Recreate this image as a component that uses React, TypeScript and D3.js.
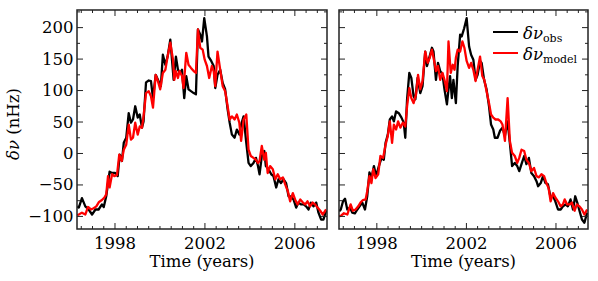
import React from "react";
import * as d3 from "d3";

// values, [year, nHz]
const obsLeft: [number, number][] = [
  [1996.32, -84], [1996.39, -86], [1996.53, -71], [1996.68, -84], [1996.83, -89], [1996.98, -97],
  [1997.13, -89], [1997.27, -89], [1997.42, -81], [1997.5, -85], [1997.61, -68], [1997.76, -29],
  [1997.87, -31], [1998.01, -31], [1998.12, -36], [1998.21, -2], [1998.31, -12], [1998.39, 17],
  [1998.5, 25], [1998.61, 64], [1998.71, 49], [1998.8, 54], [1998.9, 75], [1999.01, 57],
  [1999.1, 62], [1999.2, 41], [1999.27, 51], [1999.38, 113], [1999.5, 116], [1999.6, 115],
  [1999.69, 88], [1999.81, 125], [1999.94, 115], [2000.04, 107], [2000.13, 157], [2000.24, 141],
  [2000.34, 154], [2000.46, 181], [2000.61, 117], [2000.71, 154], [2000.8, 133], [2000.9, 128],
  [2000.98, 133], [2001.08, 88], [2001.17, 123], [2001.27, 102], [2001.38, 99], [2001.5, 96],
  [2001.6, 94], [2001.69, 197], [2001.79, 189], [2001.87, 178], [2001.97, 215], [2002.09, 186],
  [2002.16, 154], [2002.28, 147], [2002.39, 139], [2002.46, 104], [2002.56, 125], [2002.68, 133],
  [2002.79, 112], [2002.9, 102], [2003.01, 70], [2003.1, 49], [2003.2, 30], [2003.32, 25],
  [2003.42, 38], [2003.53, 30], [2003.61, 46], [2003.72, 59], [2003.84, 17], [2003.94, -15],
  [2004.04, -20], [2004.16, -15], [2004.27, -7], [2004.36, -20], [2004.43, -33], [2004.53, -4],
  [2004.64, 4], [2004.71, -20], [2004.83, -25], [2004.95, -33], [2005.05, -36], [2005.17, -54],
  [2005.27, -41], [2005.38, -47], [2005.5, -41], [2005.61, -47], [2005.72, -68], [2005.82, -68],
  [2005.94, -73], [2006.06, -86], [2006.16, -78], [2006.27, -81], [2006.39, -81], [2006.5, -84],
  [2006.61, -89], [2006.71, -78], [2006.83, -84], [2006.95, -78], [2007.05, -94], [2007.17, -105],
  [2007.27, -105], [2007.39, -91],
];

const modelLeft: [number, number][] = [
  [1996.32, -98], [1996.39, -97], [1996.53, -94], [1996.68, -97], [1996.8, -85], [1996.93, -89],
  [1997.05, -87], [1997.17, -84], [1997.29, -77], [1997.42, -74], [1997.53, -70], [1997.61, -65],
  [1997.69, -36], [1997.76, -54], [1997.87, -33], [1997.97, -36], [1998.09, -34], [1998.19, -2],
  [1998.3, -12], [1998.39, 6], [1998.5, 14], [1998.61, 46], [1998.71, 22], [1998.8, 25],
  [1998.9, 49], [1999.01, 30], [1999.1, 43], [1999.2, 41], [1999.27, 59], [1999.38, 96],
  [1999.5, 99], [1999.6, 91], [1999.69, 73], [1999.81, 125], [1999.91, 115], [2000.01, 102],
  [2000.13, 128], [2000.24, 133], [2000.34, 154], [2000.46, 176], [2000.58, 149], [2000.64, 117],
  [2000.71, 131], [2000.8, 120], [2000.87, 131], [2000.98, 123], [2001.05, 104], [2001.17, 160],
  [2001.27, 141], [2001.38, 136], [2001.5, 131], [2001.6, 128], [2001.69, 197], [2001.79, 168],
  [2001.9, 165], [2001.99, 149], [2002.09, 139], [2002.19, 120], [2002.31, 139], [2002.39, 131],
  [2002.46, 107], [2002.56, 162], [2002.68, 133], [2002.79, 107], [2002.9, 99], [2003.01, 75],
  [2003.1, 54], [2003.2, 59], [2003.32, 54], [2003.42, 62], [2003.53, 49], [2003.61, 20],
  [2003.72, 54], [2003.84, 62], [2003.94, 6], [2004.04, -4], [2004.16, -7], [2004.27, -10],
  [2004.36, -15], [2004.43, -12], [2004.53, 12], [2004.64, -10], [2004.71, 1], [2004.79, -31],
  [2004.9, -20], [2005.02, -25], [2005.13, -41], [2005.24, -33], [2005.35, -41], [2005.47, -38],
  [2005.57, -49], [2005.69, -60], [2005.79, -76], [2005.91, -63], [2006.01, -73], [2006.12, -81],
  [2006.24, -73], [2006.36, -78], [2006.46, -81], [2006.56, -76], [2006.68, -84], [2006.79, -78],
  [2006.9, -81], [2007.01, -86], [2007.13, -91], [2007.24, -97], [2007.39, -89],
];

const obsRight: [number, number][] = [
  [1996.32, -92], [1996.39, -89], [1996.49, -76], [1996.58, -72], [1996.68, -89], [1996.8, -86],
  [1996.9, -94], [1997.02, -95], [1997.13, -89], [1997.23, -84], [1997.35, -78], [1997.47, -89],
  [1997.57, -68], [1997.67, -30], [1997.76, -39], [1997.87, -20], [1997.97, -36], [1998.09, -20],
  [1998.21, -7], [1998.31, -10], [1998.39, 17], [1998.49, 30], [1998.58, 54], [1998.68, 59],
  [1998.76, 51], [1998.86, 67], [1998.98, 64], [1999.1, 57], [1999.2, 49], [1999.27, 25],
  [1999.35, 86], [1999.45, 128], [1999.54, 120], [1999.64, 91], [1999.72, 86], [1999.82, 120],
  [1999.94, 96], [2000.04, 107], [2000.16, 162], [2000.24, 139], [2000.34, 152], [2000.46, 168],
  [2000.53, 162], [2000.64, 117], [2000.73, 144], [2000.83, 131], [2000.93, 126], [2001.02, 102],
  [2001.13, 78], [2001.2, 102], [2001.27, 123], [2001.35, 88], [2001.42, 117], [2001.53, 80],
  [2001.61, 139], [2001.72, 189], [2001.79, 186], [2001.9, 199], [2002.01, 215], [2002.12, 170],
  [2002.21, 157], [2002.31, 149], [2002.41, 117], [2002.5, 125], [2002.61, 147], [2002.68, 144],
  [2002.79, 117], [2002.9, 102], [2003.01, 75], [2003.1, 46], [2003.2, 38], [2003.27, 25],
  [2003.39, 25], [2003.5, 36], [2003.61, 41], [2003.72, 28], [2003.84, 51], [2003.94, 17],
  [2004.04, -20], [2004.16, -15], [2004.27, -20], [2004.36, -28], [2004.46, -17], [2004.58, -4],
  [2004.68, -17], [2004.79, -7], [2004.9, -31], [2005.02, -36], [2005.13, -44], [2005.2, -52],
  [2005.32, -47], [2005.42, -36], [2005.53, -47], [2005.64, -49], [2005.76, -70], [2005.87, -68],
  [2005.97, -76], [2006.09, -89], [2006.21, -89], [2006.31, -84], [2006.43, -81], [2006.53, -84],
  [2006.65, -73], [2006.76, -89], [2006.86, -68], [2006.95, -78], [2007.05, -91], [2007.16, -105],
  [2007.27, -110], [2007.39, -94],
];

const modelRight: [number, number][] = [
  [1996.32, -100], [1996.39, -99], [1996.53, -95], [1996.68, -97], [1996.83, -81], [1996.93, -91],
  [1997.05, -89], [1997.17, -84], [1997.27, -78], [1997.38, -74], [1997.5, -73], [1997.57, -60],
  [1997.67, -36], [1997.76, -47], [1997.84, -25], [1997.94, -39], [1998.06, -33], [1998.16, -4],
  [1998.28, -7], [1998.39, 14], [1998.49, 28], [1998.58, 51], [1998.68, 17], [1998.76, 46],
  [1998.86, 38], [1998.95, 51], [1999.05, 41], [1999.16, 49], [1999.27, 43], [1999.35, 75],
  [1999.45, 104], [1999.54, 88], [1999.64, 80], [1999.75, 94], [1999.84, 125], [1999.94, 102],
  [2000.04, 115], [2000.16, 162], [2000.27, 144], [2000.36, 152], [2000.46, 165], [2000.56, 147],
  [2000.64, 131], [2000.73, 139], [2000.83, 117], [2000.93, 128], [2001.02, 117], [2001.13, 99],
  [2001.2, 178], [2001.3, 128], [2001.39, 141], [2001.47, 133], [2001.53, 152], [2001.61, 165],
  [2001.72, 162], [2001.82, 178], [2001.91, 168], [2002.01, 147], [2002.12, 136], [2002.21, 144],
  [2002.31, 133], [2002.41, 115], [2002.5, 133], [2002.61, 154], [2002.71, 123], [2002.8, 117],
  [2002.9, 99], [2003.01, 80], [2003.1, 62], [2003.2, 57], [2003.3, 54], [2003.42, 54],
  [2003.53, 51], [2003.61, 46], [2003.72, 20], [2003.84, 88], [2003.94, 20], [2004.04, 1],
  [2004.16, -4], [2004.27, -15], [2004.36, -7], [2004.46, 6], [2004.58, 4], [2004.68, -10],
  [2004.79, -15], [2004.9, -28], [2005.02, -23], [2005.13, -36], [2005.24, -38], [2005.35, -33],
  [2005.47, -36], [2005.57, -47], [2005.67, -55], [2005.76, -76], [2005.87, -63], [2005.97, -70],
  [2006.09, -76], [2006.21, -84], [2006.31, -81], [2006.39, -73], [2006.5, -81], [2006.61, -81],
  [2006.71, -78], [2006.83, -91], [2006.93, -81], [2007.05, -84], [2007.16, -89], [2007.27, -97],
  [2007.39, -89],
];

const xMajor = [1998, 2002, 2006];
const yMajor = [-100, -50, 0, 50, 100, 150, 200];
const xDomain: [number, number] = [1996.31, 2007.43];
const yDomain: [number, number] = [-120, 228];

const font = "'DejaVu Serif', serif";
const fs = 16.5;
const top = 10;
const bottom = 229;

function Panel({ id, left, right, obs, model, showY, legend }: any) {
  const x = d3.scaleLinear().domain(xDomain).range([left, right]);
  const y = d3.scaleLinear().domain(yDomain).range([bottom, top]);
  const line = d3.line<[number, number]>().x((d) => x(d[0])).y((d) => y(d[1]));
  const xMinor = d3.range(1996.5, 2007.4, 0.5).filter((v) => !xMajor.includes(v));
  const yMinor = d3.range(-100, 226, 25).filter((v) => !yMajor.includes(v));
  const tickColor = "#222";

  return (
    <g>
      <defs>
        <clipPath id={"clip" + id}>
          <rect x={left} y={top} width={right - left} height={bottom - top} />
        </clipPath>
      </defs>
      <g clipPath={`url(#clip${id})`}>
        <path d={line(obs) || ""} fill="none" stroke="#000" strokeWidth={2.3} strokeLinejoin="round" />
        <path d={line(model) || ""} fill="none" stroke="#ff0000" strokeWidth={2.3} strokeLinejoin="round" />
      </g>
      {/* ticks inward on all four sides */}
      {xMajor.map((v) => (
        <g key={"xM" + v} stroke={tickColor} strokeWidth={1}>
          <line x1={x(v)} x2={x(v)} y1={bottom} y2={bottom - 6} />
          <line x1={x(v)} x2={x(v)} y1={top} y2={top + 6} />
        </g>
      ))}
      {xMinor.map((v) => (
        <g key={"xm" + v} stroke={tickColor} strokeWidth={1}>
          <line x1={x(v)} x2={x(v)} y1={bottom} y2={bottom - 3} />
          <line x1={x(v)} x2={x(v)} y1={top} y2={top + 3} />
        </g>
      ))}
      {yMajor.map((v) => (
        <g key={"yM" + v} stroke={tickColor} strokeWidth={1}>
          <line x1={left} x2={left + 6} y1={y(v)} y2={y(v)} />
          <line x1={right} x2={right - 6} y1={y(v)} y2={y(v)} />
        </g>
      ))}
      {yMinor.map((v) => (
        <g key={"ym" + v} stroke={tickColor} strokeWidth={1}>
          <line x1={left} x2={left + 3} y1={y(v)} y2={y(v)} />
          <line x1={right} x2={right - 3} y1={y(v)} y2={y(v)} />
        </g>
      ))}
      <rect x={left} y={top} width={right - left} height={bottom - top} fill="none" stroke="#222" strokeWidth={1.5} />
      {xMajor.map((v) => (
        <text key={"xl" + v} x={x(v)} y={248.5} textAnchor="middle" fontFamily={font} fontSize={fs} fill="#000">
          {v}
        </text>
      ))}
      {showY &&
        yMajor.map((v) => (
          <text key={"yl" + v} x={left - 3.5} y={y(v) + 5.5} textAnchor="end" fontFamily={font} fontSize={fs} fill="#000">
            {v < 0 ? "\u2212" + Math.abs(v) : v}
          </text>
        ))}
      <text x={(left + right) / 2} y={266.5} textAnchor="middle" fontFamily={font} fontSize={fs} fill="#000">
        Time (years)
      </text>
      {legend && (
        <g fontFamily={font} fill="#000">
          <line x1={493} x2={518} y1={32} y2={32} stroke="#000" strokeWidth={2} />
          <text x={523} y={39} fontSize={16.5}>
            <tspan fontStyle="italic">δν</tspan>
            <tspan fontSize={11} dy={3}>obs</tspan>
          </text>
          <line x1={493} x2={518} y1={53} y2={53} stroke="#ff0000" strokeWidth={2} />
          <text x={523} y={60} fontSize={16.5}>
            <tspan fontStyle="italic">δν</tspan>
            <tspan fontSize={11} dy={3}>model</tspan>
          </text>
        </g>
      )}
    </g>
  );
}

export default function App() {
  return (
    <svg width={598} height={281} style={{ position: "absolute", left: 0, top: 0, background: "#fff" }}>
      <rect width={598} height={281} fill="#fff" />
      <Panel id="L" left={77} right={327} obs={obsLeft} model={modelLeft} showY={true} legend={false} />
      <Panel id="R" left={339} right={588} obs={obsRight} model={modelRight} showY={false} legend={true} />
      <text transform="translate(18.5,124) rotate(-90)" textAnchor="middle" fontFamily={font} fontSize={fs} fill="#000">
        <tspan fontStyle="italic">δν</tspan> (nHz)
      </text>
    </svg>
  );
}
